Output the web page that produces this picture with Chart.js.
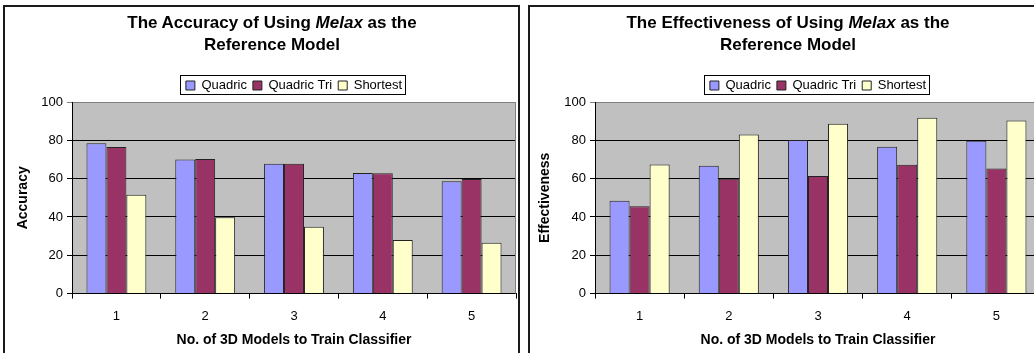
<!DOCTYPE html>
<html>
<head>
<meta charset="utf-8">
<title>Melax reference model</title>
<script src="https://cdn.jsdelivr.net/npm/chart.js@4.4.1/dist/chart.umd.min.js"></script>
<style>
  body { margin: 0; background: #fff; overflow: hidden; width: 1034px; height: 353px; position: relative; }
  .box { position: absolute; top: 5px; width: 513px; height: 360px; border: 2px solid #1a1a1a; border-bottom: none; }
  #leftBox { left: 3px; }
  #rightBox { left: 528px; }
  .box canvas { position: absolute; left: 0; top: 0; }
  .title { position: absolute; top: 5px; width: 460px; text-align: center; color: #000;
           font: bold 17px "Liberation Sans", Arial, sans-serif; line-height: 22px; }
</style>
</head>
<body>
<div class="box" id="leftBox">
  <canvas id="accuracyChart" width="513" height="346"></canvas>
  <div class="title" style="left:37px">The Accuracy of Using <i>Melax</i> as the<br>Reference Model</div>
</div>
<div class="box" id="rightBox">
  <canvas id="effectChart" width="513" height="346"></canvas>
  <div class="title" style="left:28px">The Effectiveness of Using <i>Melax</i> as the<br>Reference Model</div>
</div>
<script>
// values
const categories = ["1", "2", "3", "4", "5"];
const seriesNames = ["Quadric", "Quadric Tri", "Shortest"];
const seriesColors = ["#9999ff", "#993366", "#ffffcc"];

const accuracyQuadric = [78.5, 70.0, 67.8, 63.0, 58.6];
const accuracyQuadricTri = [76.5, 70.3, 67.8, 62.8, 59.8];
const accuracyShortest = [51.6, 39.8, 34.9, 28.0, 26.5];

const effectQuadric = [48.4, 66.7, 80.2, 76.6, 79.8];
const effectQuadricTri = [45.6, 60.0, 61.4, 67.2, 65.3];
const effectShortest = [67.4, 83.1, 88.6, 91.8, 90.4];

const yTicks = [0, 20, 40, 60, 80, 100];

Chart.defaults.font.family = '"Liberation Sans", Arial, sans-serif';
Chart.defaults.color = "#000";

// grey plot area, grey right edge, and the box round the legend
const excelLook = {
  id: "excelLook",
  beforeDraw(chart) {
    const { ctx, chartArea: a } = chart;
    ctx.save();
    ctx.fillStyle = "#c0c0c0";
    ctx.fillRect(a.left, a.top, a.right - a.left, a.bottom - a.top);
    ctx.restore();
  },
  afterDraw(chart) {
    const { ctx, chartArea: a } = chart;
    ctx.save();
    ctx.strokeStyle = "#808080";
    ctx.lineWidth = 1;
    ctx.beginPath();
    ctx.moveTo(Math.round(a.right) - 0.5, a.top);
    ctx.lineTo(Math.round(a.right) - 0.5, a.bottom);
    ctx.stroke();

    const boxes = chart.legend.legendHitBoxes;
    if (boxes && boxes.length) {
      const first = boxes[0];
      const last = boxes[boxes.length - 1];
      const x0 = Math.round(first.left - 6) + 0.5;
      const x1 = Math.round(last.left + last.width + 3) + 0.5;
      const mid = first.top + first.height / 2;
      const y0 = Math.round(mid - 11) + 0.5;
      const y1 = Math.round(mid + 8) + 0.5;
      ctx.strokeStyle = "#000";
      ctx.strokeRect(x0, y0, x1 - x0, y1 - y0);
    }
    ctx.restore();
  },
};

function makeChart(canvasId, yTitle, values, axisWidth, titleShift) {
  const datasets = values.map((data, i) => ({
    label: seriesNames[i],
    data: data,
    backgroundColor: seriesColors[i],
    borderColor: "#222",
    borderWidth: 1,
    categoryPercentage: 0.674,
    barPercentage: 1.0,
  }));

  return new Chart(document.getElementById(canvasId), {
    type: "bar",
    data: { labels: categories, datasets: datasets },
    plugins: [excelLook],
    options: {
      responsive: false,
      animation: false,
      layout: { padding: { top: 66, left: 0, right: 2, bottom: 4 } },
      plugins: {
        title: { display: false },
        tooltip: { enabled: false },
        legend: {
          position: "top",
          fullSize: false,
          labels: {
            boxWidth: 9,
            boxHeight: 9,
            padding: 6,
            font: { size: 13 },
            color: "#000",
          },
        },
      },
      scales: {
        x: {
          border: { display: true, color: "#000", width: 1 },
          grid: {
            offset: true,
            drawOnChartArea: false,
            drawTicks: true,
            tickLength: 5,
            color: "#000",
          },
          ticks: { padding: 10, font: { size: 13 }, color: "#000" },
          title: {
            display: true,
            text: "No. of 3D Models to Train Classifier",
            font: { size: 14, weight: "bold" },
            padding: { top: -2, bottom: 0 },
            color: "#000",
          },
        },
        y: {
          min: 0,
          max: 100,
          afterBuildTicks: (scale) => {
            scale.ticks = yTicks.map((v) => ({ value: v }));
          },
          afterFit: (scale) => {
            scale.width = axisWidth;
          },
          border: { display: true, color: "#000", width: 1 },
          grid: {
            color: (c) => (c.tick && c.tick.value === 100 ? "#808080" : "#000"),
            tickLength: 5,
          },
          ticks: { padding: 4, font: { size: 13 }, color: "#000" },
          title: {
            display: true,
            text: yTitle,
            font: { size: 14, weight: "bold" },
            padding: { top: titleShift, bottom: 0 },
            color: "#000",
          },
        },
      },
    },
  });
}

makeChart("accuracyChart", "Accuracy",
  [accuracyQuadric, accuracyQuadricTri, accuracyShortest], 67, 9.6);
makeChart("effectChart", "Effectiveness",
  [effectQuadric, effectQuadricTri, effectShortest], 65, 6.6);
</script>
</body>
</html>
